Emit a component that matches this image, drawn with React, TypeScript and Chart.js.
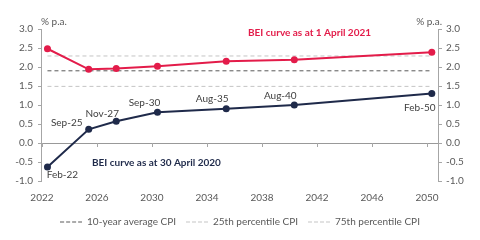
import React, { useEffect, useRef } from "react";
import { Chart, registerables } from "chart.js";

Chart.register(...registerables);

// ---- data ----
const maturities = [2022.4, 2025.4, 2027.4, 2030.4, 2035.4, 2040.35, 2050.35];
const maturityLabels = ["Feb-22", "Sep-25", "Nov-27", "Sep-30", "Aug-35", "Aug-40", "Feb-50"];
const bei2021 = [2.48, 1.94, 1.96, 2.02, 2.15, 2.19, 2.39];
const bei2020 = [-0.63, 0.36, 0.57, 0.81, 0.9, 1.0, 1.3];
const avgCpi10y = 1.9;
const cpi25th = 1.49;
const cpi75th = 2.29;
const xTickYears = [2022, 2026, 2030, 2034, 2038, 2042, 2046, 2050];
const seriesNames = [
  "BEI curve as at 1 April 2021",
  "BEI curve as at 30 April 2020",
  "10-year average CPI",
  "25th percentile CPI",
  "75th percentile CPI",
];
const unitLabel = "% p.a.";

// ---- styles ----
const RED = "#e31c4a";
const NAVY = "#1f2a4a";
const FONT = "Lato";
const FS = 10;
const TICK_COLOR = "#595959";
const AXIS_COLOR = "#a6a6a6";
const AVG_COLOR = "#595959";
const PCT_COLOR = "#c4c4c4";
// label offsets (px) relative to each navy point
const labelOffsets: [number, number][] = [
  [15, 8],
  [-22, -7],
  [-14, -8],
  [-13, -9],
  [-14, -10],
  [-14, -9],
  [-12, 14],
];

function dashSample(color: string) {
  const c = document.createElement("canvas");
  c.width = 22;
  c.height = 3;
  const g = c.getContext("2d")!;
  g.strokeStyle = color;
  g.lineWidth = 1;
  g.setLineDash([4, 2]);
  g.beginPath();
  g.moveTo(0, 1.5);
  g.lineTo(22, 1.5);
  g.stroke();
  return c;
}

const annotPlugin = {
  id: "annot",
  afterDatasetsDraw(chart: any) {
    const { ctx, scales, chartArea } = chart;
    const xs = scales.x;
    const ys = scales.y;
    ctx.save();
    // zero-line tick marks
    const y0 = ys.getPixelForValue(0);
    ctx.strokeStyle = AXIS_COLOR;
    ctx.lineWidth = 1;
    xTickYears.forEach((yr) => {
      const px = Math.round(xs.getPixelForValue(yr)) + 0.5;
      ctx.beginPath();
      ctx.moveTo(px, y0);
      ctx.lineTo(px, y0 + 4);
      ctx.stroke();
    });
    // unit labels
    ctx.font = `${FS}px ${FONT}`;
    ctx.fillStyle = TICK_COLOR;
    ctx.textBaseline = "middle";
    ctx.textAlign = "left";
    ctx.fillText(unitLabel, chartArea.left, chartArea.top - 7);
    ctx.textAlign = "right";
    ctx.fillText(unitLabel, chartArea.right + 4, chartArea.top - 7);
    // point labels
    ctx.textAlign = "center";
    ctx.fillStyle = "#404040";
    maturityLabels.forEach((lab, i) => {
      const px = xs.getPixelForValue(maturities[i]);
      const py = ys.getPixelForValue(bei2020[i]);
      ctx.fillText(lab, px + labelOffsets[i][0], py + labelOffsets[i][1]);
    });
    // curve titles
    ctx.font = `bold ${FS}px ${FONT}`;
    ctx.textAlign = "left";
    ctx.fillStyle = RED;
    ctx.fillText(seriesNames[0], xs.getPixelForValue(2036.98), ys.getPixelForValue(2.9));
    ctx.fillStyle = NAVY;
    ctx.fillText(seriesNames[1], xs.getPixelForValue(2025.64), ys.getPixelForValue(-0.53));
    ctx.restore();
  },
};

function refLine(label: string, value: number, color: string) {
  return {
    label,
    data: [
      { x: maturities[0], y: value },
      { x: maturities[maturities.length - 1], y: value },
    ],
    borderColor: color,
    backgroundColor: color,
    borderWidth: 1,
    borderDash: [4, 3],
    pointRadius: 0,
    pointStyle: dashSample(color),
    order: 5,
  };
}

export default function App() {
  const ref = useRef<HTMLCanvasElement>(null);
  useEffect(() => {
    if (!ref.current) return;
    const chart = new Chart(ref.current, {
      type: "line",
      data: {
        datasets: [
          {
            label: seriesNames[0],
            data: maturities.map((x, i) => ({ x, y: bei2021[i] })),
            borderColor: RED,
            backgroundColor: RED,
            borderWidth: 2,
            pointRadius: 3.5,
            pointBorderWidth: 0,
            order: 1,
          },
          {
            label: seriesNames[1],
            data: maturities.map((x, i) => ({ x, y: bei2020[i] })),
            borderColor: NAVY,
            backgroundColor: NAVY,
            borderWidth: 2,
            pointRadius: 3.5,
            pointBorderWidth: 0,
            order: 1,
          },
          refLine(seriesNames[2], avgCpi10y, AVG_COLOR),
          refLine(seriesNames[3], cpi25th, PCT_COLOR),
          refLine(seriesNames[4], cpi75th, PCT_COLOR),
        ] as any,
      },
      options: {
        animation: false,
        responsive: false,
        layout: { padding: { top: 29, left: 0, right: 0, bottom: 3 } },
        plugins: {
          tooltip: { enabled: false },
          legend: {
            position: "bottom",
            labels: {
              filter: (item: any) => item.datasetIndex >= 2,
              usePointStyle: true,
              pointStyleWidth: 22,
              padding: 10,
              color: TICK_COLOR,
              font: { family: FONT, size: FS },
            },
          },
        },
        scales: {
          x: {
            type: "linear",
            min: 2021.93,
            max: 2050.8,
            grid: { display: false, drawTicks: false },
            border: { display: false },
            afterBuildTicks: (s: any) => {
              s.ticks = xTickYears.map((v) => ({ value: v }));
            },
            afterFit: (s: any) => {
              s.height = 26;
            },
            ticks: {
              padding: 11,
              color: TICK_COLOR,
              font: { family: FONT, size: FS },
              callback: (v: any) => String(v),
            },
          },
          y: {
            position: "left",
            min: -1,
            max: 3,
            afterFit: (s: any) => {
              s.width = 41;
            },
            ticks: {
              stepSize: 0.5,
              padding: 5,
              color: TICK_COLOR,
              font: { family: FONT, size: FS },
              callback: (v: any) => Number(v).toFixed(1),
            },
            grid: {
              color: (c: any) => (c.tick && c.tick.value === 0 ? "#999999" : "rgba(0,0,0,0)"),
              tickColor: AXIS_COLOR,
              tickLength: 3,
            },
            border: { color: AXIS_COLOR },
          },
          y2: {
            position: "right",
            min: -1,
            max: 3,
            afterFit: (s: any) => {
              s.width = 42;
            },
            ticks: {
              stepSize: 0.5,
              padding: 4,
              color: TICK_COLOR,
              font: { family: FONT, size: FS },
              callback: (v: any) => Number(v).toFixed(1),
            },
            grid: { drawOnChartArea: false, tickColor: AXIS_COLOR, tickLength: 4 },
            border: { color: AXIS_COLOR },
          },
        },
      } as any,
      plugins: [annotPlugin],
    });
    return () => chart.destroy();
  }, []);
  return (
    <div style={{ position: "absolute", left: 0, top: 0, width: 480, height: 240, background: "#fff" }}>
      <canvas ref={ref} width={480} height={240} />
    </div>
  );
}
